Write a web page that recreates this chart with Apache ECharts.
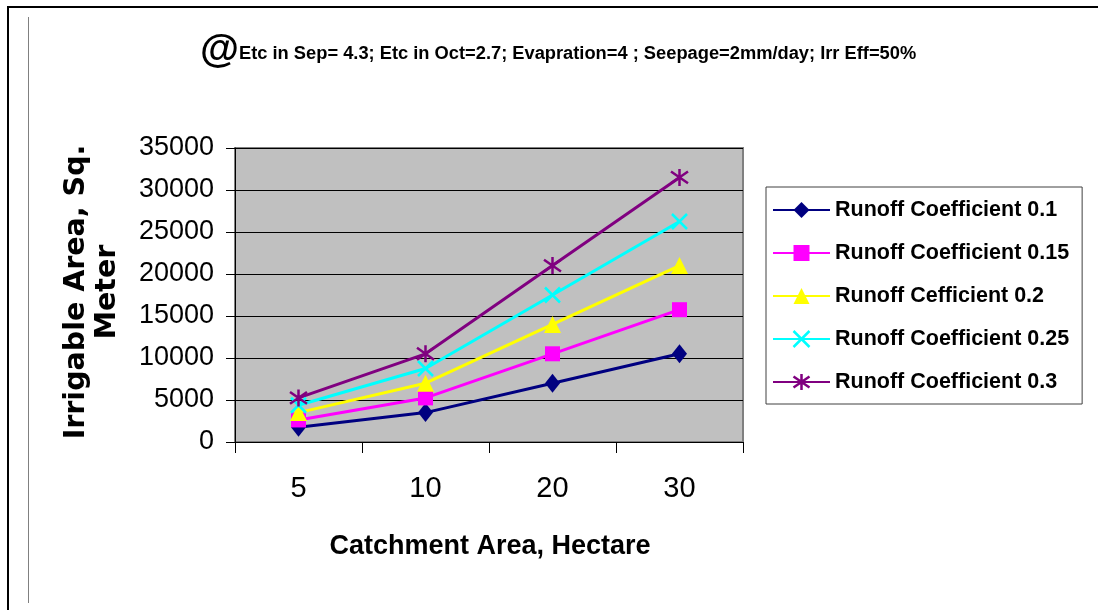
<!DOCTYPE html>
<html><head><meta charset="utf-8">
<script src="https://cdn.jsdelivr.net/npm/echarts@6/dist/echarts.min.js"></script>
<style>html,body{margin:0;padding:0;background:#fff}#c{width:1098px;height:610px}</style>
</head><body><div id="c"></div>
<script>
// ---- data ----
const categories = ['5', '10', '20', '30'];
const seriesNames = ['Runoff Coefficient 0.1', 'Runoff Coefficient 0.15', 'Runoff Cefficient 0.2', 'Runoff Coefficient 0.25', 'Runoff Coefficient 0.3'];
const rc010 = [1750, 3500, 7000, 10500];
const rc015 = [2625, 5250, 10500, 15750];
const rc020 = [3500, 7000, 14000, 21000];
const rc025 = [4375, 8750, 17500, 26250];
const rc030 = [5250, 10500, 21000, 31500];
const yMin = 0, yMax = 35000, yStep = 5000;
const titleText = 'Etc in Sep= 4.3; Etc in Oct=2.7; Evapration=4 ; Seepage=2mm/day; Irr Eff=50%';
const xTitle = 'Catchment Area, Hectare';
const yTitle = 'Irrigable Area, Sq.\nMeter';

// ---- styles ----
const SANS = '"Liberation Sans", Arial, sans-serif';
const X_PATH = 'path://M0,0L10,10M10,0L0,10';
const STAR_PATH = 'path://M0,1.5L10,8.5M10,1.5L0,8.5M5,0L5,10';

const styles = [
  { color: '#000080', symbol: 'diamond', size: [15, 19], bw: 0 },
  { color: '#FF00FF', symbol: 'rect', size: 15, bw: 0 },
  { color: '#FFFF00', symbol: 'triangle', size: [17, 17], bw: 0 },
  { color: '#00FFFF', symbol: X_PATH, size: 15, bw: 2.5 },
  { color: '#800080', symbol: STAR_PATH, size: 17, bw: 2.5 }
];
const values = [rc010, rc015, rc020, rc025, rc030];

const series = seriesNames.map((name, i) => ({
  name: name,
  type: 'line',
  data: values[i],
  symbol: styles[i].symbol,
  symbolSize: styles[i].size,
  showAllSymbol: true,
  lineStyle: { color: styles[i].color, width: 3 },
  itemStyle: { color: styles[i].color, borderColor: styles[i].color, borderWidth: styles[i].bw },
  emphasis: { disabled: true },
  animation: false
}));

const chart = echarts.init(document.getElementById('c'), null, { renderer: 'canvas' });
chart.setOption({
  animation: false,
  backgroundColor: '#ffffff',
  title: {
    left: 195, top: 26,
    text: '{a|@}{b|' + titleText + '}',
    textStyle: {
      rich: {
        a: { fontFamily: SANS, fontWeight: 'bold', fontSize: 40, color: '#000', verticalAlign: 'middle' },
        b: { fontFamily: SANS, fontWeight: 'bold', fontSize: 18.3, color: '#000', verticalAlign: 'middle', padding: [6, 0, 0, 0] }
      }
    }
  },
  grid: {
    left: 235, top: 148, width: 508, height: 294,
    show: true, backgroundColor: '#C0C0C0', borderColor: '#808080', borderWidth: 2
  },
  legend: {
    orient: 'vertical',
    left: 766, top: 187,
    padding: [12, 13, 11, 6],
    itemWidth: 57, itemHeight: 20, itemGap: 21,
    backgroundColor: '#fff', borderColor: '#404040', borderWidth: 1, borderRadius: 0,
    textStyle: { fontFamily: SANS, fontWeight: 'bold', fontSize: 21.5, color: '#000' },
    data: seriesNames.map((n, i) => ({ name: n, itemStyle: { borderWidth: styles[i].bw, borderColor: styles[i].color } }))
  },
  xAxis: {
    type: 'category', data: categories, boundaryGap: true,
    axisLine: { show: true, lineStyle: { color: '#000', width: 1 } },
    axisTick: { show: true, length: 11, alignWithLabel: false, interval: 0, lineStyle: { color: '#000' } },
    axisLabel: { fontFamily: SANS, fontSize: 29, color: '#000', margin: 32, interval: 0 },
    splitLine: { show: false }
  },
  yAxis: {
    type: 'value', min: yMin, max: yMax, interval: yStep,
    axisLine: { show: true, lineStyle: { color: '#000', width: 1 } },
    axisTick: { show: true, length: 9, lineStyle: { color: '#000' } },
    axisLabel: { fontFamily: SANS, fontSize: 27, color: '#000', margin: 21, formatter: v => String(v) },
    splitLine: { show: true, lineStyle: { color: '#000', width: 1 } }
  },
  graphic: [
    { type: 'line', shape: { x1: 7, y1: 7, x2: 1098, y2: 7 }, style: { stroke: '#000', lineWidth: 2 }, silent: true },
    { type: 'line', shape: { x1: 8, y1: 6, x2: 8, y2: 610 }, style: { stroke: '#000', lineWidth: 2 }, silent: true },
    { type: 'line', shape: { x1: 28.5, y1: 17, x2: 28.5, y2: 603 }, style: { stroke: '#808080', lineWidth: 1 }, silent: true },
    { type: 'text', x: 92, y: 292, rotation: Math.PI / 2,
      style: { text: yTitle, font: 'bold 28.5px "DejaVu Sans", sans-serif', fill: '#000', align: 'center', verticalAlign: 'middle', lineHeight: 31 }, silent: true },
    { type: 'text', x: 490, y: 547,
      style: { text: xTitle, font: 'bold 27px "Liberation Sans", Arial, sans-serif', fill: '#000', align: 'center', verticalAlign: 'middle' }, silent: true }
  ],
  series: series
});
</script></body></html>
